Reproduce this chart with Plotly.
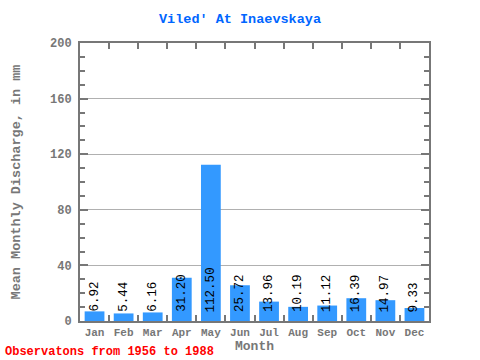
import plotly.graph_objects as go

months = ["Jan", "Feb", "Mar", "Apr", "May", "Jun", "Jul", "Aug", "Sep", "Oct", "Nov", "Dec"]
discharge = [6.92, 5.44, 6.16, 31.20, 112.50, 25.72, 13.96, 10.19, 11.12, 16.39, 14.97, 9.33]
y_ticks = [0, 40, 80, 120, 160, 200]

MONO = "Liberation Mono, Courier New, monospace"
GRAY = "#777777"

fig = go.Figure()
fig.add_trace(go.Bar(x=months, y=discharge, marker=dict(color="#3399ff", line=dict(width=0)),
                     width=0.68, hoverinfo="x+y"))

for m, v in zip(months, discharge):
    fig.add_annotation(x=m, y=0, text=f"{v:.2f}", textangle=-90, showarrow=False,
                       xanchor="center", yanchor="bottom", yshift=7,
                       font=dict(family=MONO, size=12.5, color="black"))

fig.add_annotation(text="Observatons from 1956 to 1988", xref="paper", yref="paper",
                   x=-77/350, y=-31/278, xanchor="left", yanchor="middle", showarrow=False,
                   font=dict(family=MONO, size=12, color="red", weight="bold"))

fig.update_layout(
    width=480, height=360,
    margin=dict(l=80, r=51, t=43, b=39, autoexpand=False),
    paper_bgcolor="white", plot_bgcolor="white",
    showlegend=False,
    title=dict(text="Viled' At Inaevskaya", x=0.5, xanchor="center", y=1 - 18/360, yanchor="middle",
               font=dict(family=MONO, size=13.5, color="#0066ff", weight="bold")),
    xaxis=dict(
        automargin=False, tickangle=0,
        showline=True, linecolor=GRAY, linewidth=2, mirror="allticks",
        ticks="inside", tickson="boundaries", ticklen=6, tickcolor=GRAY, tickwidth=2,
        tickfont=dict(family=MONO, size=11, color=GRAY, weight="bold"),
        title=dict(text="Month", font=dict(family=MONO, size=13, color=GRAY, weight="bold"), standoff=2),
        showgrid=False,
    ),
    yaxis=dict(
        automargin=False,
        range=[0, 200], tickvals=y_ticks,
        showline=True, linecolor=GRAY, linewidth=2, mirror="allticks",
        ticks="inside", ticklen=8, tickcolor=GRAY, tickwidth=2,
        ticklabelstandoff=4,
        minor=dict(dtick=10, ticks="inside", ticklen=5, tickcolor=GRAY, tickwidth=2, showgrid=False),
        showgrid=True, gridcolor="#b0b0b0", gridwidth=1,
        zeroline=False,
        tickfont=dict(family=MONO, size=12, color=GRAY, weight="bold"),
        title=dict(text="Mean Monthly Discharge, in mm", font=dict(family=MONO, size=13.5, color=GRAY, weight="bold"), standoff=26),
    ),
)

fig.write_html("out.html", config={"displayModeBar": False},
               post_script="document.body.style.margin='0';document.body.style.overflow='hidden';")
